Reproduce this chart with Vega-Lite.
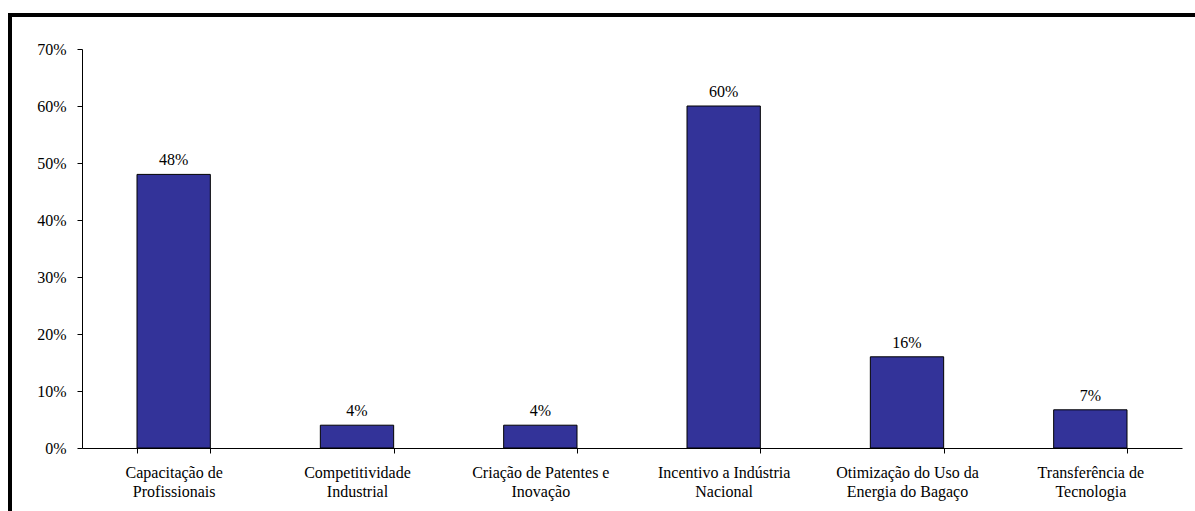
{
  "$schema": "https://vega.github.io/schema/vega-lite/v6.json",
  "autosize": "none",
  "width": 1200,
  "height": 511,
  "padding": {"left": 10, "top": 15, "right": -15, "bottom": -15},
  "background": "white",
  "config": {
    "view": {"stroke": "black", "strokeWidth": 4},
    "font": "Liberation Serif"
  },
  "data": {
    "values": [
      {"categoria": "Capacitação de\nProfissionais", "percentual": 0.48},
      {"categoria": "Competitividade\nIndustrial", "percentual": 0.04},
      {"categoria": "Criação de Patentes e\nInovação", "percentual": 0.04},
      {"categoria": "Incentivo a Indústria\nNacional", "percentual": 0.60},
      {"categoria": "Otimização do Uso da\nEnergia do Bagaço", "percentual": 0.16},
      {"categoria": "Transferência de\nTecnologia", "percentual": 0.067}
    ]
  },
  "encoding": {
    "x": {
      "field": "categoria",
      "type": "nominal",
      "sort": null,
      "scale": {"range": [72, 1172], "paddingInner": 0.6, "paddingOuter": 0.3},
      "axis": {
        "title": null,
        "orient": "bottom",
        "offset": -78,
        "tickBand": "extent",
        "tickSize": 5,
        "tickColor": "black",
        "domainColor": "black",
        "labelAngle": 0,
        "labelExpr": "isString(datum.value) ? split(datum.value, '\\n') : ''",
        "labelFont": "Liberation Serif",
        "labelFontSize": 16,
        "labelColor": "black",
        "labelLineHeight": 19,
        "labelPadding": 11,
        "labelLimit": 0,
        "grid": false
      }
    },
    "y": {
      "field": "percentual",
      "type": "quantitative",
      "scale": {"domain": [0, 0.7], "range": [433, 34], "nice": false},
      "axis": {
        "title": null,
        "orient": "left",
        "offset": -72,
        "values": [0, 0.1, 0.2, 0.3, 0.4, 0.5, 0.6, 0.7],
        "format": ".0%",
        "tickSize": 5,
        "tickColor": "black",
        "domainColor": "black",
        "labelFont": "Liberation Serif",
        "labelFontSize": 16,
        "labelColor": "black",
        "labelPadding": 11,
        "grid": false
      }
    }
  },
  "layer": [
    {
      "mark": {"type": "bar", "color": "#333399", "stroke": "black", "strokeWidth": 1}
    },
    {
      "mark": {"type": "text", "baseline": "alphabetic", "dy": -9, "font": "Liberation Serif", "fontSize": 16, "color": "black"},
      "encoding": {
        "text": {"field": "percentual", "type": "quantitative", "format": ".0%"}
      }
    }
  ]
}
